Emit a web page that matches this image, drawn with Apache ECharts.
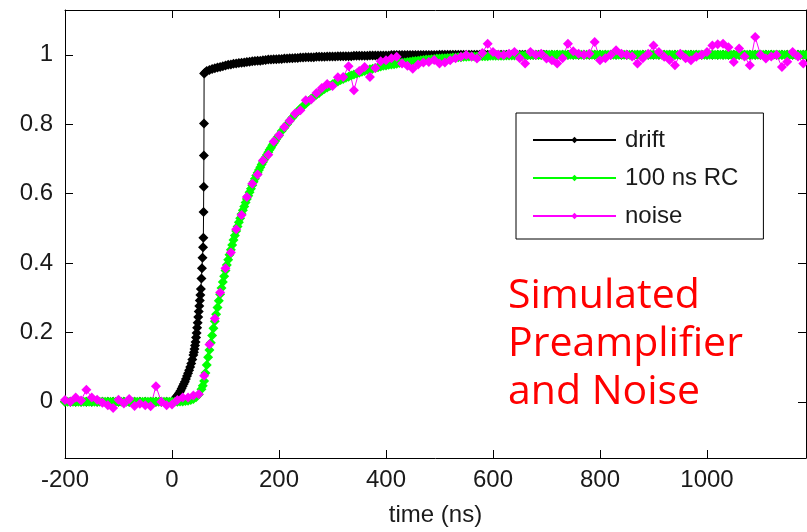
<!DOCTYPE html>
<html><head><meta charset="utf-8">
<script src="https://cdn.jsdelivr.net/npm/echarts@6/dist/echarts.min.js"></script>
<style>html,body{margin:0;padding:0;background:#fff}#c{width:807px;height:532px}</style>
</head><body><div id="c"></div>
<script>
// ---- tick labels ----
const xTicks = [-200, 0, 200, 400, 600, 800, 1000];
const yTicks = [0, 0.2, 0.4, 0.6, 0.8, 1];
const seriesNames = ['drift', '100 ns RC', 'noise'];
const annotation = ['Simulated', 'Preamplifier', 'and Noise'];

// ---- drift signal [time ns, value] ----
const drift = [
[-200,0],[-190,0],[-180,0],[-170,0],[-160,0],[-150,0],[-140,0],[-130,0],[-120,0],[-110,0],
[-100,0],[-90,0],[-80,0],[-70,0],[-60,0],[-50,0],[-40,0],[-30,0],[-20,0],[-10,0],
[0,0],[2,0.003],[4,0.006],[6,0.01],[8,0.014],[10,0.018],[12,0.022],[14,0.027],[16,0.032],[18,0.038],
[20,0.045],[22,0.051],[24,0.058],[26,0.066],[28,0.074],[30,0.082],[32,0.091],[34,0.1],[36,0.11],[38,0.122],
[40,0.135],[41,0.143],[42,0.152],[43,0.162],[44,0.172],[45,0.185],[46,0.198],[47,0.213],[48,0.228],[49,0.244],
[50,0.26],[51,0.276],[52,0.292],[53,0.308],[54,0.325],[55,0.355],[56,0.385],[57,0.415],[58,0.445],
[58.6,0.473],[59,0.547],[59.3,0.62],[59.6,0.71],[59.8,0.802],[60,0.946],[62,0.949],
[65,0.953],[70,0.956],[75,0.959],[80,0.961],[85,0.963],[90,0.965],[95,0.967],[100,0.969],
[105,0.971],[110,0.972],[115,0.974],[120,0.975],[125,0.976],[130,0.977],[135,0.978],[140,0.979],
[145,0.98],[150,0.981],[155,0.982],[160,0.983],[165,0.983],[170,0.984],[175,0.985],[180,0.986],
[185,0.986],[190,0.987],[195,0.987],[200,0.988],[205,0.988],[210,0.989],[215,0.989],[220,0.99],[225,0.99],
[230,0.991],[235,0.991],[240,0.992],[245,0.992],[250,0.993],[255,0.993],[260,0.993],[265,0.993],[270,0.994],[275,0.994],
[280,0.994],[285,0.994],[290,0.995],[295,0.995],[300,0.995],[305,0.995],[310,0.996],[315,0.996],[320,0.996],[325,0.996],
[330,0.996],[335,0.996],[340,0.997],[345,0.997],[350,0.997],[355,0.997],[360,0.997],[365,0.997],[370,0.998],[375,0.998],
[380,0.998],[385,0.998],[390,0.998],[395,0.998],[400,0.998],[405,0.998],[410,0.999],[415,0.999],[420,0.999],[425,0.999],
[430,0.999],[435,0.999],[440,0.999],[445,0.999],[450,0.999],[455,0.999],[460,0.999],[465,0.999],[470,0.999],[475,0.999],
[480,0.999],[485,0.999],[490,0.999],[495,0.999],[500,1],[505,1],[510,1],[515,1],[520,1],[525,1],
[530,1],[535,1],[540,1],[545,1],[550,1],[555,1],[560,1],[565,1],[570,1],[575,1],
[580,1],[585,1],[590,1],[595,1],[600,1],[605,1],[610,1],[615,1],[620,1],[625,1],
[630,1],[635,1],[640,1],[645,1],[650,1],[655,1],[660,1],[665,1],[670,1],[675,1],
[680,1],[685,1],[690,1],[695,1],[700,1],[710,1],[720,1],[730,1],[740,1],[750,1],
[760,1],[770,1],[780,1],[790,1],[800,1],[810,1],[820,1],[830,1],[840,1],[850,1],
[860,1],[870,1],[880,1],[890,1],[900,1],[910,1],[920,1],[930,1],[940,1],[950,1],
[960,1],[970,1],[980,1],[990,1],[1000,1],[1010,1],[1020,1],[1030,1],[1040,1],[1050,1],
[1060,1],[1070,1],[1080,1],[1090,1],[1100,1],[1110,1],[1120,1],[1130,1],[1140,1],[1150,1],
[1160,1],[1170,1],[1180,1],[1185,1]
];

// ---- 100 ns RC shaped signal [time ns, value] ----
const rc = [
[-200,0],[-195,0],[-190,0],[-185,0],[-180,0],[-175,0],[-170,0],[-165,0],[-160,0],[-155,0],
[-150,0],[-145,0],[-140,0],[-135,0],[-130,0],[-125,0],[-120,0],[-115,0],[-110,0],[-105,0],
[-100,0],[-95,0],[-90,0],[-85,0],[-80,0],[-75,0],[-70,0],[-65,0],[-60,0],[-55,0],
[-50,0],[-45,0],[-40,0],[-35,0],[-30,0],[-25,0],[-20,0],[-15,0],[-10,0],[-5,0],
[0,0],[5,0],[10,0],[15,0.001],[20,0.001],[25,0.002],
[30,0.003],[35,0.005],[40,0.008],[45,0.013],[50,0.021],[55,0.036],[57.5,0.046],
[60,0.06],[62.5,0.083],[65,0.106],[67.5,0.128],[70,0.149],[72.5,0.17],[75,0.191],[77.5,0.212],
[80,0.232],[82.5,0.252],[85,0.272],[87.5,0.291],[90,0.31],[92.5,0.328],[95,0.345],[97.5,0.362],
[100,0.378],[102.5,0.394],[105,0.409],[107.5,0.424],[110,0.438],[112.5,0.452],[115,0.466],[117.5,0.479],
[120,0.492],[122.5,0.505],[125,0.517],[127.5,0.529],[130,0.541],[132.5,0.552],[135,0.563],[137.5,0.574],
[140,0.584],[142.5,0.594],[145,0.604],[147.5,0.614],[150,0.624],[152.5,0.634],[155,0.643],[157.5,0.652],
[160,0.66],[162.5,0.668],[165,0.676],[167.5,0.684],[170,0.691],[172.5,0.698],[175,0.705],[177.5,0.712],
[180,0.719],[182.5,0.726],[185,0.732],[187.5,0.739],[190,0.745],[192.5,0.751],[195,0.757],[197.5,0.763],
[200,0.768],[205,0.78],[210,0.79],[215,0.8],[220,0.81],[225,0.819],
[230,0.828],[235,0.837],[240,0.845],[245,0.852],[250,0.859],[255,0.866],[260,0.873],[265,0.879],[270,0.885],[275,0.89],
[280,0.896],[285,0.901],[290,0.906],[295,0.91],[300,0.915],[305,0.919],[310,0.923],[315,0.927],[320,0.93],[325,0.934],
[330,0.937],[335,0.94],[340,0.943],[345,0.946],[350,0.948],[355,0.951],[360,0.953],[365,0.956],[370,0.958],[375,0.96],
[380,0.962],[385,0.964],[390,0.966],[395,0.968],[400,0.969],[405,0.971],[410,0.972],[415,0.973],[420,0.974],[425,0.976],
[430,0.977],[435,0.978],[440,0.979],[445,0.98],[450,0.981],[455,0.982],[460,0.983],[465,0.984],[470,0.985],[475,0.986],
[480,0.986],[485,0.987],[490,0.988],[495,0.989],[500,0.989],[505,0.99],[510,0.99],[515,0.991],[520,0.991],[525,0.992],
[530,0.992],[535,0.993],[540,0.993],[545,0.994],[550,0.994],[555,0.995],[560,0.995],[565,0.995],[570,0.995],[575,0.996],
[580,0.996],[585,0.996],[590,0.996],[595,0.997],[600,0.997],[605,0.997],[610,0.997],[615,0.997],[620,0.997],[625,0.998],
[630,0.998],[635,0.998],[640,0.998],[645,0.998],[650,0.998],[655,0.998],[660,0.998],[665,0.999],[670,0.999],[675,0.999],
[680,0.999],[685,0.999],[690,0.999],[695,0.999],[700,0.999],[705,1],[710,1],[715,1],[720,1],[725,1],
[730,1],[735,1],[740,1],[745,1],[750,1],[755,1],[760,1],[765,1],[770,1],[775,1],
[780,1],[785,1],[790,1],[795,1],[800,1],[805,1],[810,1],[815,1],[820,1],[825,1],
[830,1],[835,1],[840,1],[845,1],[850,1],[855,1],[860,1],[865,1],[870,1],[875,1],
[880,1],[885,1],[890,1],[895,1],[900,1],[905,1],[910,1],[915,1],[920,1],[925,1],
[930,1],[935,1],[940,1],[945,1],[950,1],[955,1],[960,1],[965,1],[970,1],[975,1],
[980,1],[985,1],[990,1],[995,1],[1000,1],[1005,1],[1010,1],[1015,1],[1020,1],[1025,1],
[1030,1],[1035,1],[1040,1],[1045,1],[1050,1],[1055,1],[1060,1],[1065,1],[1070,1],[1075,1],
[1080,1],[1085,1],[1090,1],[1095,1],[1100,1],[1105,1],[1110,1],[1115,1],[1120,1],[1125,1],
[1130,1],[1135,1],[1140,1],[1145,1],[1150,1],[1155,1],[1160,1],[1165,1],[1170,1],[1175,1],
[1180,1],[1185,1]
];

// ---- noisy signal [time ns, value] ----
const noise = [
[-200,0.005],[-190,0],[-180,0.012],[-170,0.004],[-160,0.035],[-150,0.012],[-140,0.006],[-130,-0.003],[-120,-0.01],[-110,-0.018],
[-100,0.006],[-90,-0.005],[-80,0.008],[-70,-0.012],[-60,-0.006],[-50,-0.01],[-40,-0.013],[-30,0.045],[-20,0],[-10,-0.01],
[0,-0.008],[10,0.005],[20,0.012],[30,0.012],[40,0.018],[50,0.022],[60,0.075],[70,0.165],[80,0.24],[90,0.315],
[100,0.385],[110,0.43],[120,0.497],[130,0.538],[140,0.59],[150,0.628],[160,0.655],[170,0.695],[180,0.712],[190,0.75],
[200,0.768],[210,0.792],[220,0.81],[230,0.831],[240,0.84],[250,0.869],[260,0.871],[270,0.89],[280,0.904],[290,0.916],
[300,0.91],[310,0.935],[320,0.936],[330,0.967],[340,0.898],[350,0.953],[360,0.965],[370,0.936],[380,0.962],[390,0.981],
[400,0.984],[410,0.99],[420,0.994],[430,0.975],[440,0.968],[450,0.96],[460,0.972],[470,0.978],[480,0.979],[490,0.985],
[500,0.975],[510,0.978],[520,0.984],[530,0.99],[540,0.994],[550,0.999],[560,0.995],[570,0.989],[580,1.005],[590,1.032],
[600,1.008],[610,1],[620,0.999],[630,1.003],[640,1.008],[650,0.99],[660,0.975],[670,1.008],[680,1],[690,1.003],
[700,0.989],[710,0.984],[720,0.975],[730,0.99],[740,1.032],[750,1.01],[760,1.003],[770,1],[780,1.003],[790,1.037],
[800,0.984],[810,0.99],[820,0.999],[830,1.013],[840,1.003],[850,1],[860,0.995],[870,0.975],[880,0.99],[890,1.003],
[900,1.027],[910,1.008],[920,0.994],[930,0.985],[940,0.97],[950,1.003],[960,0.99],[970,0.984],[980,0.994],[990,1],
[1000,1.008],[1010,1.027],[1020,1.03],[1030,1.032],[1040,1.022],[1050,0.979],[1060,1.018],[1070,0.995],[1080,0.97],[1090,1.051],
[1100,1],[1110,0.989],[1120,0.995],[1130,0.999],[1140,0.965],[1150,0.98],[1160,1.008],[1170,0.995],[1180,0.975]
];

const FONT = 'Liberation Sans, Arial, sans-serif';
const TXT = '#1a1a1a';
const chart = echarts.init(document.getElementById('c'), null, {renderer: 'canvas'});

function axisCommon() {
  return {
    axisLine: {show: true, onZero: false, lineStyle: {color: '#000', width: 1}},
    splitLine: {show: false}
  };
}
const xMin = -200, xMax = 1185, yMin = -0.162, yMax = 1.129;
const MS = 10;

chart.setOption({
  animation: false,
  backgroundColor: '#fff',
  grid: {left: 65, right: 1, top: 10, bottom: 73, show: false},
  legend: {
    orient: 'vertical',
    left: 516, top: 113,
    padding: [15, 25, 11, 16],
    itemWidth: 83, itemHeight: 8, itemGap: 14,
    backgroundColor: '#fff',
    borderColor: '#000', borderWidth: 1, borderRadius: 0,
    selectedMode: false,
    textStyle: {fontFamily: FONT, fontSize: 24, color: TXT, lineHeight: 24, padding: [0, 0, 0, 4]},
    data: seriesNames
  },
  xAxis: [
    Object.assign(axisCommon(), {
      type: 'value', min: xMin, max: xMax, position: 'bottom',
      axisTick: {show: true, inside: true, length: 8, customValues: xTicks, lineStyle: {color: '#000'}},
      axisLabel: {show: true, customValues: xTicks, fontFamily: FONT, fontSize: 24, color: TXT, margin: 10,
        formatter: v => String(v)},
      name: 'time (ns)', nameLocation: 'middle', nameGap: 45,
      nameTextStyle: {fontFamily: FONT, fontSize: 24, color: TXT}
    }),
    Object.assign(axisCommon(), {
      type: 'value', min: xMin, max: xMax, position: 'top',
      axisTick: {show: true, inside: true, length: 8, customValues: xTicks, lineStyle: {color: '#000'}},
      axisLabel: {show: false}
    })
  ],
  yAxis: [
    Object.assign(axisCommon(), {
      type: 'value', min: yMin, max: yMax, position: 'left',
      axisTick: {show: true, inside: true, length: 8, customValues: yTicks, lineStyle: {color: '#000'}},
      axisLabel: {show: true, customValues: yTicks, fontFamily: FONT, fontSize: 24, color: TXT, margin: 12,
        formatter: v => String(Math.round(v * 10) / 10)}
    }),
    Object.assign(axisCommon(), {
      type: 'value', min: yMin, max: yMax, position: 'right',
      axisTick: {show: true, inside: true, length: 8, customValues: yTicks, lineStyle: {color: '#000'}},
      axisLabel: {show: false}
    })
  ],
  series: [
    {name: seriesNames[0], type: 'line', data: drift, symbol: 'diamond', symbolSize: MS, showAllSymbol: true,
     color: '#000000', lineStyle: {color: '#000000', width: 1}, itemStyle: {color: '#000000'}},
    {name: seriesNames[1], type: 'line', data: rc, symbol: 'diamond', symbolSize: MS, showAllSymbol: true,
     color: '#00ff00', lineStyle: {color: '#00ff00', width: 1}, itemStyle: {color: '#00ff00'}},
    {name: seriesNames[2], type: 'line', data: noise, symbol: 'diamond', symbolSize: MS, showAllSymbol: true,
     color: '#ff00ff', lineStyle: {color: '#ff00ff', width: 1}, itemStyle: {color: '#ff00ff'}}
  ],
  graphic: [{
    type: 'text', left: 508, top: 272, silent: true,
    style: {text: annotation.join('\n'), fill: '#ff0000', font: '41px "Open Sans", sans-serif', lineHeight: 48}
  }]
});
</script>
</body></html>
